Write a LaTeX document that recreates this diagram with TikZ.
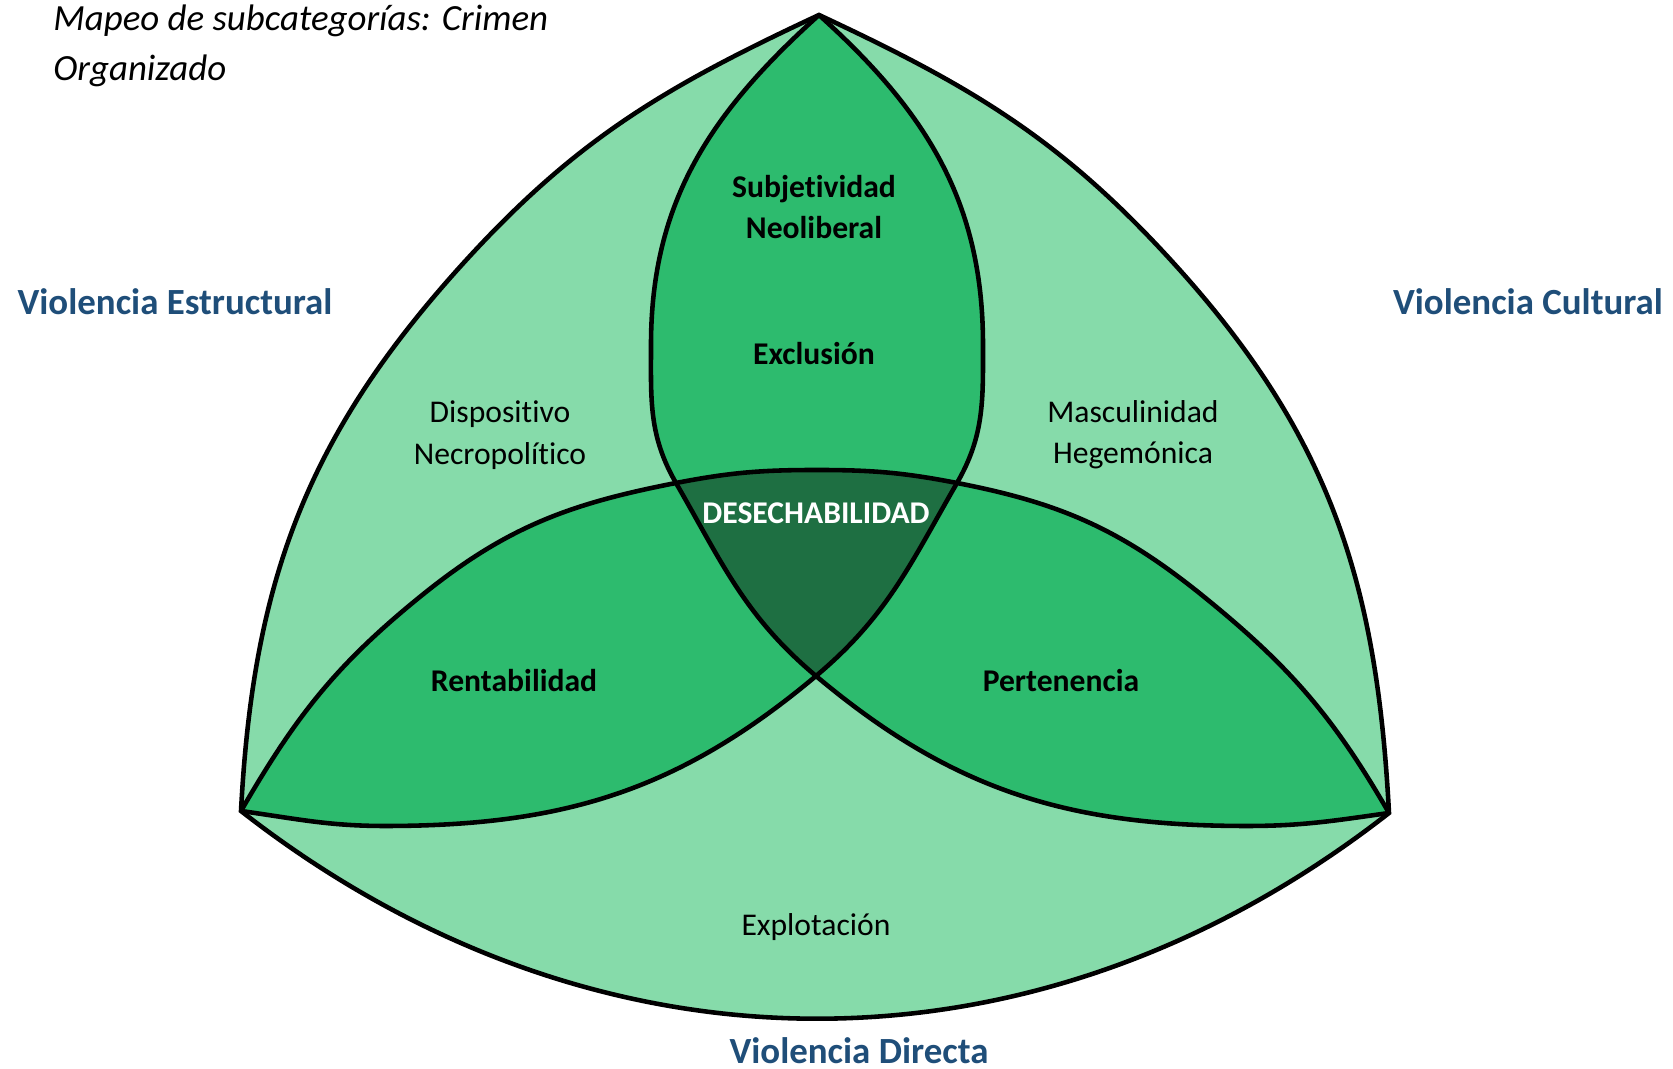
\documentclass[tikz,border=0pt]{standalone}
\usepackage{fontspec}
\setmainfont{Carlito}[Ligatures={NoCommon,NoRequired,NoContextual},Contextuals=NoAlternate]
\definecolor{vlight}{HTML}{86DBAA}
\definecolor{vmid}{HTML}{2DBB6E}
\definecolor{vdark}{HTML}{1E6F42}
\definecolor{vblue}{HTML}{1F4E79}

\begin{document}
\begin{tikzpicture}[line width=1.3pt,
    heading/.style={text=vblue, font=\fontsize{10.5}{12.6}\selectfont\bfseries},
    subcat/.style={align=center, font=\fontsize{9}{11.8}\selectfont},
    keycat/.style={align=center, font=\fontsize{9}{11.8}\selectfont\bfseries}]
  \useasboundingbox (0,0) rectangle (16.73,-10.69);

  % corners and crossing points
  \coordinate (T) at (8.19,-0.15);
  \coordinate (L) at (2.41,-8.11);
  \coordinate (R) at (13.89,-8.13);
  \coordinate (M) at (8.16,-6.76);
  \coordinate (P1) at (6.76,-4.83);
  \coordinate (P2) at (9.57,-4.83);
  \coordinate (Cpk) at (8.17,-4.70);
  \coordinate (A1) at (9.83,-3.45);
  \coordinate (B1) at (6.51,-3.45);
  \coordinate (Abot) at (3.85,-8.26);
  \coordinate (Bbot) at (12.47,-8.26);
  \coordinate (C1) at (4.21,-5.96);
  \coordinate (C2) at (12.03,-5.96);
  \coordinate (OL1) at (4.59,-2.68);
  \coordinate (OR1) at (11.78,-2.68);

  % outer shape
  \fill[vlight] (T) to[out=205,in=48] (OL1) to[out=228,in=87] (L)
    to[out=-38,in=218] (R) to[out=93,in=-48] (OR1) to[out=132,in=-25] (T) -- cycle;

  % top lens
  \fill[vmid] (T) to[out=222,in=90] (B1) to[out=270,in=120] (P1) to[out=300,in=140] (M)
    to[out=40,in=240] (P2) to[out=60,in=-90] (A1) to[out=90,in=-42] (T) -- cycle;
  % left lens
  \fill[vmid] (L) to[out=60,in=219] (C1) to[out=39,in=191] (P1) to[out=11,in=180] (Cpk)
    to[out=0,in=169] (P2) to[out=240,in=40] (M) to[out=220,in=0] (Abot)
    to[out=180,in=-8] (L) -- cycle;
  % right lens
  \fill[vmid] (R) to[out=120,in=-39] (C2) to[out=141,in=-11] (P2) to[out=169,in=0] (Cpk)
    to[out=180,in=11] (P1) to[out=300,in=140] (M) to[out=-40,in=180] (Bbot)
    to[out=0,in=188] (R) -- cycle;
  % centre
  \fill[vdark] (P1) to[out=11,in=180] (Cpk) to[out=0,in=169] (P2)
    to[out=240,in=40] (M) to[out=140,in=300] (P1) -- cycle;

  % lines
  \draw (T) to[out=205,in=48] (OL1) to[out=228,in=87] (L)
    to[out=-38,in=218] (R) to[out=93,in=-48] (OR1) to[out=132,in=-25] (T) -- cycle;
  \draw (T) to[out=-42,in=90] (A1) to[out=-90,in=60] (P2) to[out=240,in=40] (M)
    to[out=220,in=0] (Abot) to[out=180,in=-8] (L);
  \draw (T) to[out=222,in=90] (B1) to[out=270,in=120] (P1) to[out=300,in=140] (M)
    to[out=-40,in=180] (Bbot) to[out=0,in=188] (R);
  \draw (L) to[out=60,in=219] (C1) to[out=39,in=191] (P1) to[out=11,in=180] (Cpk)
    to[out=0,in=169] (P2) to[out=-11,in=141] (C2) to[out=-39,in=120] (R);

  % texts
  \node[anchor=west, align=left, inner sep=0, font=\fontsize{10.5}{14.2}\selectfont\itshape]
    (title) at (0.51,-0.46) {Mapeo de subcategorías: Crimen\\Organizado};
  \node[heading] (vest) at (1.75,-3.02) {Violencia Estructural};
  \node[heading] (vcul) at (15.28,-3.02) {Violencia Cultural};
  \node[heading] (vdir) at (8.59,-10.51) {Violencia Directa};
  \node[keycat] (subj) at (8.14,-2.07) {Subjetividad\\Neoliberal};
  \node[keycat] (excl) at (8.14,-3.54) {Exclusión};
  \node[subcat] (disp) at (5.00,-4.35) {Dispositivo\\Necropolítico};
  \node[subcat] (masc) at (11.33,-4.35) {Masculinidad\\Hegemónica};
  \node[keycat, text=white] (desech) at (8.16,-5.13) {DESECHABILIDAD};
  \node[keycat] (rent) at (5.14,-6.81) {Rentabilidad};
  \node[keycat] (pert) at (10.61,-6.81) {Pertenencia};
  \node[subcat] (expl) at (8.16,-9.27) {Explotación};
\end{tikzpicture}
\end{document}
